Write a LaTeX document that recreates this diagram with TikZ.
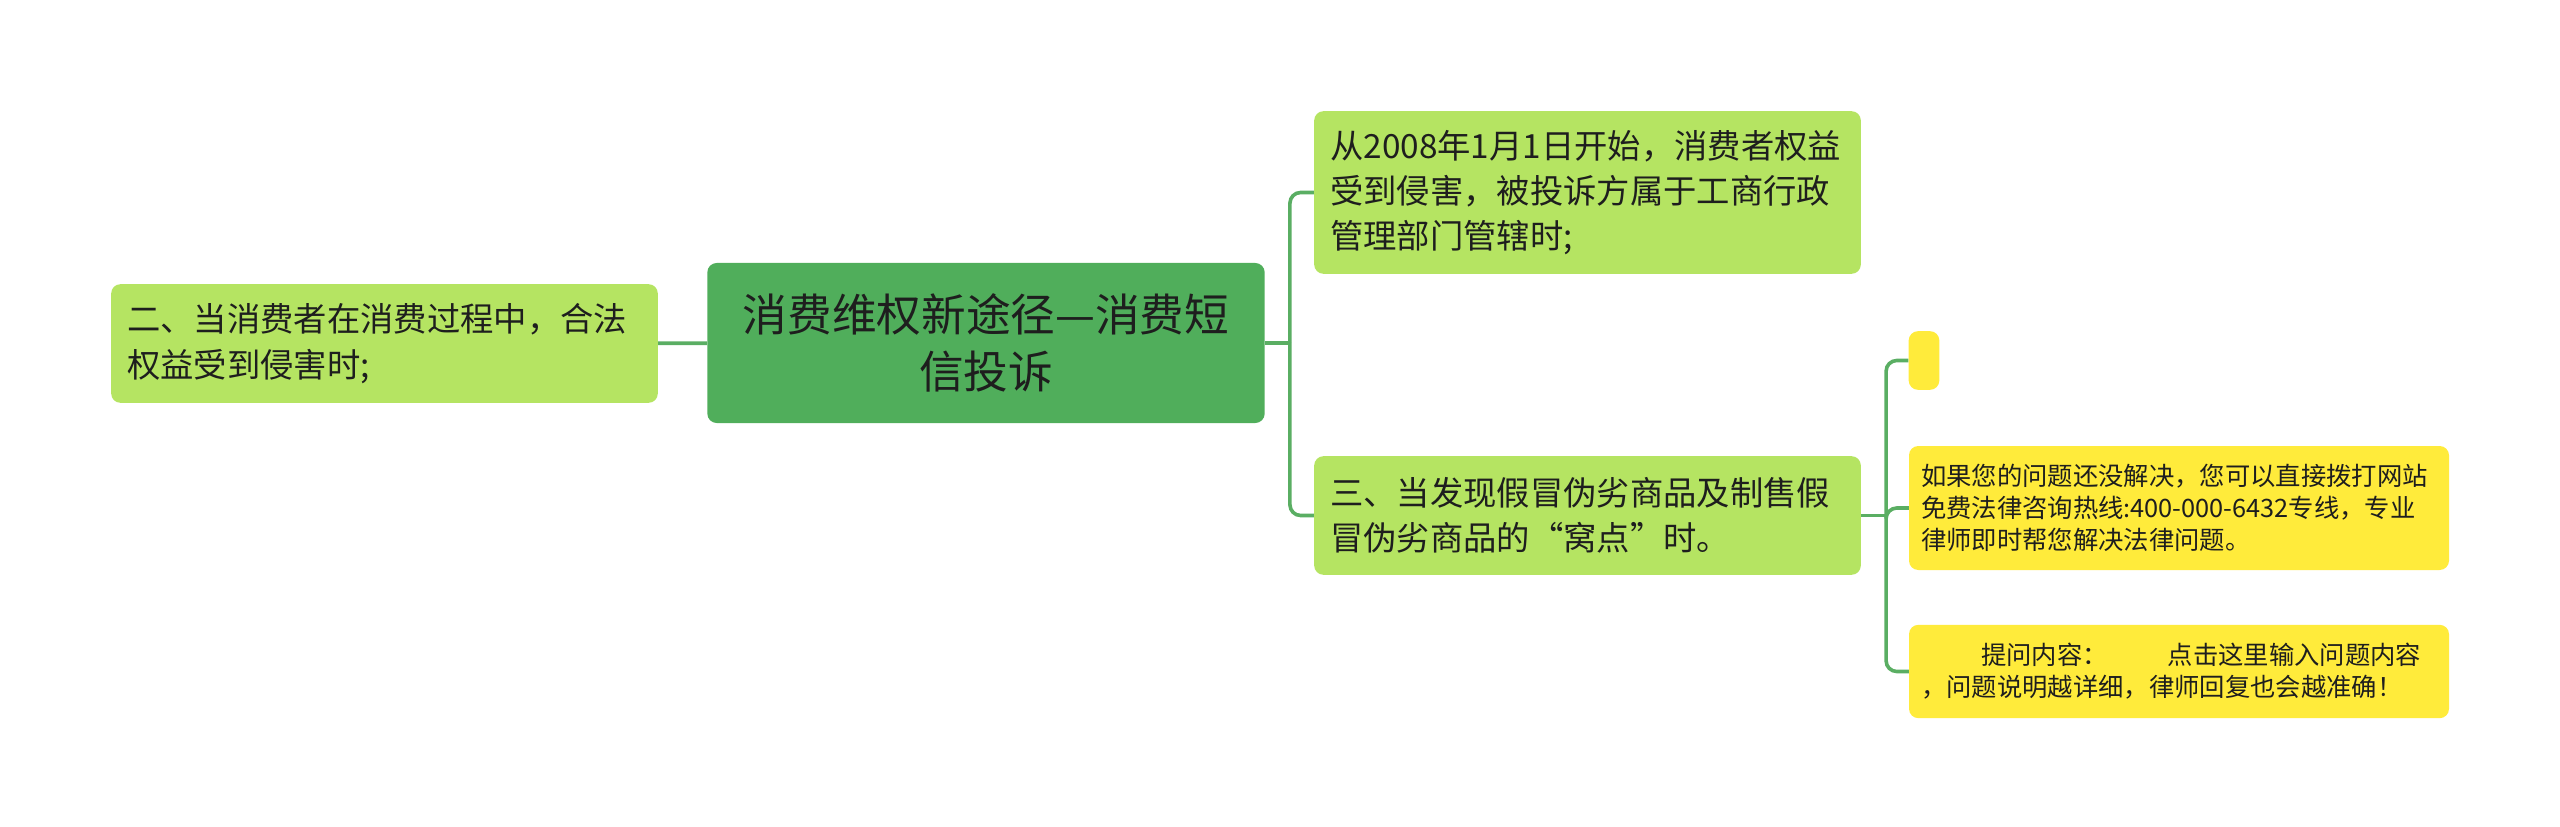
\documentclass[tikz,border=0pt]{standalone}
\usepackage{fontspec}
\setmainfont{Noto Sans CJK SC}
\usetikzlibrary{positioning}
\definecolor{rootgreen}{HTML}{50AE5B}
\definecolor{leafgreen}{HTML}{B5E462}
\definecolor{tipyellow}{HTML}{FFEB3B}
\definecolor{linkgreen}{HTML}{5AAE63}
\definecolor{textdark}{HTML}{1E1E1E}

\begin{document}
\begin{tikzpicture}[x=0.75pt,y=-0.75pt,
  box/.style={rounded corners=7pt,inner xsep=12pt,inner ysep=0pt,text=textdark},
  rootbox/.style={box,fill=rootgreen,align=center,text width=394pt,minimum width=418pt,minimum height=120pt,
    font=\fontsize{33.5pt}{43pt}\selectfont},
  leafbox/.style={box,fill=leafgreen,align=left,text width=386pt,minimum width=410pt,
    font=\fontsize{25pt}{34pt}\selectfont},
  tipbox/.style={box,fill=tipyellow,align=left,inner xsep=9pt,text width=387pt,minimum width=405pt,
    font=\fontsize{19pt}{24pt}\selectfont},
  link/.style={draw=linkgreen,line width=2.7pt,rounded corners=8pt}]
  \useasboundingbox (0,0) rectangle (2560,827);

  \node[rootbox] (root) at (986,343) {消费维权新途径—消费短\\信投诉};
  \node[leafbox,minimum height=89pt] (left) at (384.5,343.5) {二、当消费者在消费过程中，合法\\权益受到侵害时;};
  \node[leafbox,minimum height=122pt] (top) at (1587.5,192.5) {从2008年1月1日开始，消费者权益\\受到侵害，被投诉方属于工商行政\\管理部门管辖时;};
  \node[leafbox,minimum height=89pt] (third) at (1587.5,515.5) {三、当发现假冒伪劣商品及制售假\\冒伪劣商品的“窝点”时。};

  \node[box,fill=tipyellow,inner sep=0pt,minimum width=23pt,minimum height=44pt] (blank) at (1924,360.5) {};
  \node[tipbox,minimum height=93pt] (hotline) at (2179,508) {如果您的问题还没解决，您可以直接拨打网站\\免费法律咨询热线:400-000-6432专线，专业\\律师即时帮您解决法律问题。};
  \node[tipbox,minimum height=70pt] (ask) at (2179,671.5) {\hspace*{45pt}提问内容：\hspace{45pt}点击这里输入问题内容\\，问题说明越详细，律师回复也会越准确！};

  \draw[link] (left) -- (root);
  \draw[link] (root.east) -- ++(25,0) coordinate (fork1);
  \draw[link] (fork1) |- (top.west);
  \draw[link] (fork1) |- (third.west);
  \draw[link] (third.east) -- ++(25,0) coordinate (fork2);
  \draw[link] (fork2) |- (blank.west);
  \draw[link] (fork2) |- (hotline.west);
  \draw[link] (fork2) |- (ask.west);
\end{tikzpicture}
\end{document}
